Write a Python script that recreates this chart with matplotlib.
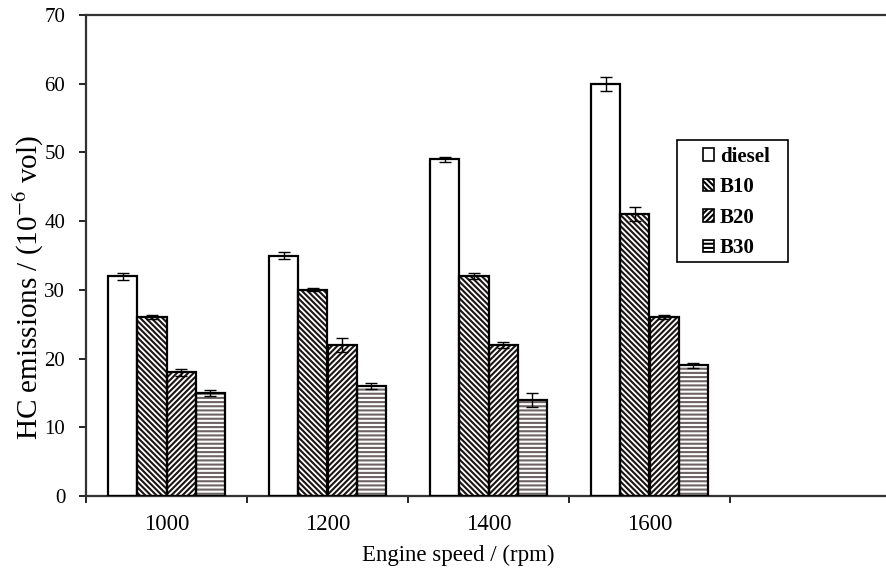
import numpy as np
import matplotlib
matplotlib.use("Agg")
import matplotlib.pyplot as plt
from matplotlib.patches import Rectangle

# 数据
speeds = ["1000", "1200", "1400", "1600", ""]
series = ["diesel", "B10", "B20", "B30"]
diesel = [32, 35, 49, 60]
b10 = [26, 30, 32, 41]
b20 = [18, 22, 22, 26]
b30 = [15, 16, 14, 19]
diesel_err = [0.5, 0.5, 0.4, 1.0]
b10_err = [0.3, 0.2, 0.4, 1.0]
b20_err = [0.5, 1.0, 0.4, 0.3]
b30_err = [0.4, 0.4, 1.0, 0.4]

values = [diesel, b10, b20, b30]
errors = [diesel_err, b10_err, b20_err, b30_err]
hatches = ["", "\\\\\\\\\\\\", "//////", "----"]
hatch_colors = ["black", "#1a1414", "#1a1414", "#6e6464"]

plt.rcParams["font.family"] = ["Liberation Serif", "DejaVu Serif"]
plt.rcParams["mathtext.fontset"] = "stix"
plt.rcParams["hatch.linewidth"] = 1.5

fig = plt.figure(figsize=(8.86, 5.77), dpi=100, facecolor="white")
W, H = 886, 577
ax = fig.add_axes([86 / W, (H - 496) / H, (886 - 86) / W, (496 - 15) / H])

x = np.arange(len(diesel))
bw = 0.182
for i, (vals, errs) in enumerate(zip(values, errors)):
    pos = x + (i - 1.5) * bw
    ax.bar(pos, vals, bw, color="white", edgecolor=hatch_colors[i], hatch=hatches[i],
           linewidth=0, label=series[i], zorder=2)
    ax.bar(pos, vals, bw, fill=False, edgecolor="black", linewidth=1.6, zorder=3)
    ax.errorbar(pos, vals, yerr=errs, fmt="none", ecolor="black", elinewidth=1.0,
                capsize=4, capthick=1.0, zorder=4)

ax.set_ylim(0, 70)
ax.set_yticks(range(0, 71, 10))
ax.set_xlim(-0.5, len(speeds) - 0.5 - 5 / 161)
ax.set_xticks(np.arange(len(speeds)))
ax.set_xticklabels(speeds)
ax.set_xticks(np.arange(len(speeds)) - 0.5, minor=True)
ax.tick_params(axis="x", which="major", length=0, pad=13, labelsize=16.5)
ax.tick_params(axis="x", which="minor", length=5, width=1.2, direction="out")
ax.tick_params(axis="y", length=5, width=1.2, direction="out", labelsize=15, pad=10)

for s in ["left", "bottom", "top"]:
    ax.spines[s].set_linewidth(1.6)
    ax.spines[s].set_color("#333333")
ax.spines["right"].set_visible(False)

ax.set_xlabel("Engine speed / (rpm)", fontsize=16.5)
ax.xaxis.set_label_coords((458 - 86) / 800, -(555 - 496) / 481)
ax.xaxis.label.set_va("center")
ax.set_ylabel(r"HC emissions / (10$^{-6}$ vol)", fontsize=21)
ax.yaxis.set_label_coords(-(86 - 29) / 800, (496 - 287) / 481)
ax.yaxis.label.set_va("center")

# 图例：外框手动画，条目靠右
frame = Rectangle((677 / W, 1 - 262 / H), (788 - 677) / W, (262 - 140) / H,
                  transform=fig.transFigure, facecolor="white",
                  edgecolor="black", linewidth=1.2, zorder=5, clip_on=False)
ax.add_patch(frame)
handles, labels = ax.get_legend_handles_labels()
leg = ax.legend(handles, labels, loc="upper left",
                bbox_to_anchor=((703 - 86) / 800, (496 - 147) / 481),
                frameon=False, handlelength=0.55, handleheight=0.55, handletextpad=0.25,
                labelspacing=0.5, borderpad=0, borderaxespad=0,
                prop={"size": 15, "weight": "bold"})
leg.set_zorder(6)
for h in leg.legend_handles:
    h.set_edgecolor("black")
    h.set_linewidth(1.2)

fig.savefig("out.png", dpi=100, facecolor="white")
